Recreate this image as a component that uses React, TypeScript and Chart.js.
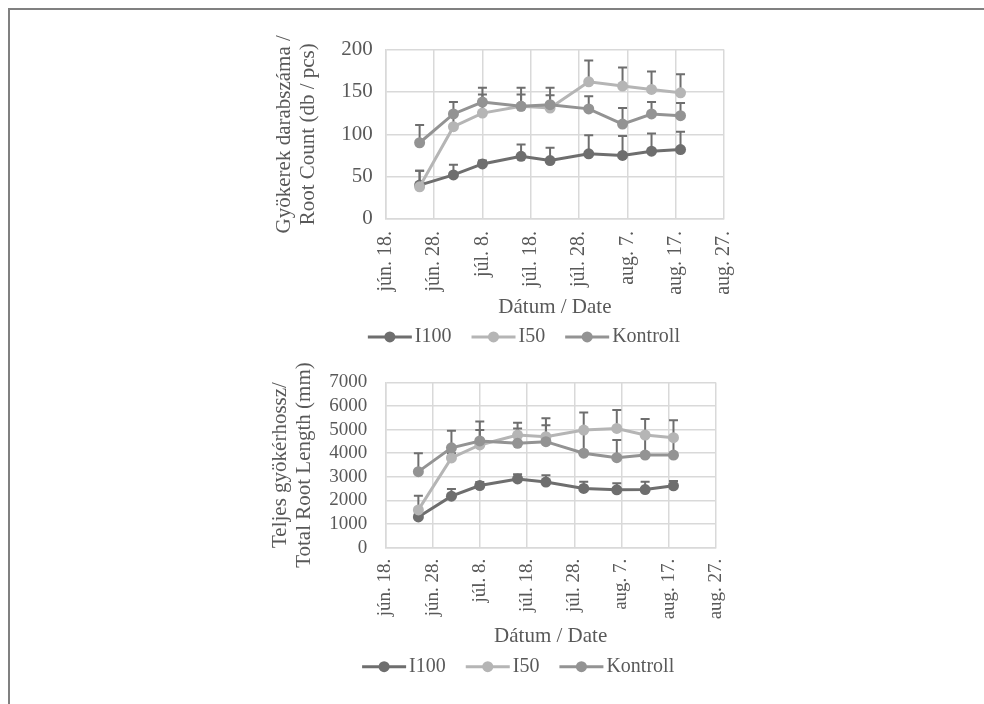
import React, { useEffect, useRef } from "react";
import { Chart, registerables } from "chart.js";

Chart.register(...registerables);

const FONT = "'Liberation Serif', 'Times New Roman', serif";
const TEXT_COLOR = "#595959";
const GRID_COLOR = "#d9d9d9";

const X_TICK_LABELS = ["jún. 18.", "jún. 28.", "júl. 8.", "júl. 18.", "júl. 28.", "aug. 7.", "aug. 17.", "aug. 27."];
// sampling dates as days after jún. 18.
const SAMPLE_DAYS = [7, 14, 20, 28, 34, 42, 49, 55, 61];
const SERIES_NAMES = ["I100", "I50", "Kontroll"];
const SERIES_COLORS = ["#6e6e6e", "#b5b5b5", "#939393"];
const ERROR_COLOR = "#6e6e6e";

const COUNT_I100 = [40, 52, 65, 74, 69, 77, 75, 80, 82];
const COUNT_I100_ERR = [17, 12, 4, 14, 15, 22, 23, 21, 21];
const COUNT_I50 = [38, 109, 125, 133, 131, 162, 157, 153, 149];
const COUNT_I50_ERR = [19, 14, 22, 14, 15, 25, 22, 21, 22];
const COUNT_KONTROLL = [90, 124, 138, 133, 135, 130, 112, 124, 122];
const COUNT_KONTROLL_ERR = [21, 14, 17, 22, 20, 15, 19, 14, 15];

const LENGTH_I100 = [1300, 2180, 2630, 2910, 2780, 2510, 2450, 2460, 2620];
const LENGTH_I100_ERR = [150, 300, 150, 200, 290, 280, 280, 330, 200];
const LENGTH_I50 = [1600, 3800, 4350, 4770, 4700, 4980, 5050, 4770, 4660];
const LENGTH_I50_ERR = [600, 200, 630, 520, 780, 750, 780, 680, 740];
const LENGTH_KONTROLL = [3220, 4230, 4520, 4420, 4490, 4000, 3810, 3920, 3920];
const LENGTH_KONTROLL_ERR = [780, 720, 820, 630, 700, 950, 750, 800, 700];

const errorBarPlugin = {
  id: "errorBars",
  beforeDatasetsDraw(chart: any) {
    const ctx = chart.ctx;
    const yScale = chart.scales.y;
    chart.data.datasets.forEach((ds: any, i: number) => {
      const errs = ds.errorBars;
      if (!errs) return;
      const meta = chart.getDatasetMeta(i);
      ctx.save();
      ctx.strokeStyle = ERROR_COLOR;
      ctx.lineWidth = 2;
      meta.data.forEach((pt: any, j: number) => {
        const v = ds.data[j].y;
        const top = yScale.getPixelForValue(v + errs[j]);
        ctx.beginPath();
        ctx.moveTo(pt.x, pt.y);
        ctx.lineTo(pt.x, top);
        ctx.moveTo(pt.x - 4.5, top);
        ctx.lineTo(pt.x + 4.5, top);
        ctx.stroke();
      });
      ctx.restore();
    });
  },
};

const lineLegendPlugin = {
  id: "lineLegend",
  afterDraw(chart: any, _args: any, opts: any) {
    const { ctx, chartArea } = chart;
    const y = chartArea.bottom + opts.offsetY;
    const symW = 44;
    const gap = 3;
    const itemGap = 20;
    ctx.save();
    ctx.font = `${opts.fontSize}px ${FONT}`;
    const items = chart.data.datasets.map((ds: any) => ({
      text: ds.label,
      color: ds.borderColor,
      w: ctx.measureText(ds.label).width,
    }));
    const total =
      items.reduce((s: number, it: any) => s + symW + gap + it.w, 0) + itemGap * (items.length - 1);
    let x = (chartArea.left + chartArea.right) / 2 + opts.offsetX - total / 2;
    items.forEach((it: any) => {
      ctx.strokeStyle = it.color;
      ctx.lineWidth = 3;
      ctx.beginPath();
      ctx.moveTo(x, y);
      ctx.lineTo(x + symW, y);
      ctx.stroke();
      ctx.fillStyle = it.color;
      ctx.beginPath();
      ctx.arc(x + symW / 2, y, 5.5, 0, Math.PI * 2);
      ctx.fill();
      ctx.fillStyle = TEXT_COLOR;
      ctx.textBaseline = "middle";
      ctx.textAlign = "left";
      ctx.fillText(it.text, x + symW + gap, y);
      x += symW + gap + it.w + itemGap;
    });
    ctx.restore();
  },
};

type Params = {
  yTitle: string[];
  yMax: number;
  yStep: number;
  series: number[][];
  errors: number[][];
  padRight: number;
  padBottom: number;
  yTitlePad: { top: number; bottom: number };
  yTickPad: number;
  yTickSize: number;
  xTickSize: number;
  xTickPad: number;
  xTitlePad: { top: number; bottom: number };
  legendOffsetX: number;
  legendOffsetY: number;
  legendFontSize: number;
};

function buildConfig(p: Params): any {
  const datasets = SERIES_NAMES.map((name, i) => ({
    label: name,
    data: SAMPLE_DAYS.map((d, j) => ({ x: d, y: p.series[i][j] })),
    errorBars: p.errors[i],
    borderColor: SERIES_COLORS[i],
    backgroundColor: SERIES_COLORS[i],
    pointBackgroundColor: SERIES_COLORS[i],
    pointBorderColor: SERIES_COLORS[i],
    pointBorderWidth: 0,
    pointRadius: 5.5,
    borderWidth: 3,
    tension: 0,
    order: SERIES_NAMES.length - i,
  }));
  const titleFont = { family: FONT, size: 21, lineHeight: 1.15 };
  return {
    type: "line",
    data: { datasets },
    options: {
      responsive: false,
      animation: false,
      layout: { padding: { top: 0, right: p.padRight, bottom: p.padBottom, left: 0 } },
      plugins: {
        legend: { display: false },
        tooltip: { enabled: false },
        lineLegend: { offsetX: p.legendOffsetX, offsetY: p.legendOffsetY, fontSize: p.legendFontSize },
      },
      scales: {
        x: {
          type: "linear",
          min: 0,
          max: 70,
          grid: { color: GRID_COLOR, lineWidth: 1.5, drawTicks: false },
          border: { color: GRID_COLOR, width: 1.5 },
          ticks: {
            stepSize: 10,
            autoSkip: false,
            maxRotation: 90,
            minRotation: 90,
            padding: p.xTickPad,
            color: TEXT_COLOR,
            font: { family: FONT, size: p.xTickSize },
            callback: (v: number) => X_TICK_LABELS[Math.round(v / 10)],
          },
          title: {
            display: true,
            text: "Dátum / Date",
            color: TEXT_COLOR,
            font: titleFont,
            padding: p.xTitlePad,
          },
        },
        y: {
          min: 0,
          max: p.yMax,
          grid: { color: GRID_COLOR, lineWidth: 1.5, drawTicks: false },
          border: { color: GRID_COLOR, width: 1.5 },
          ticks: {
            stepSize: p.yStep,
            autoSkip: false,
            padding: p.yTickPad,
            color: TEXT_COLOR,
            font: { family: FONT, size: p.yTickSize },
            callback: (v: number) => String(v),
          },
          title: {
            display: true,
            text: p.yTitle,
            color: TEXT_COLOR,
            font: titleFont,
            padding: p.yTitlePad,
          },
        },
      },
    },
    plugins: [errorBarPlugin, lineLegendPlugin],
  };
}

function ChartCanvas({ params, left, top, width, height }: { params: Params; left: number; top: number; width: number; height: number }) {
  const ref = useRef<HTMLCanvasElement | null>(null);
  useEffect(() => {
    if (!ref.current) return;
    const chart = new Chart(ref.current, buildConfig(params));
    return () => chart.destroy();
  }, []);
  return (
    <canvas
      ref={ref}
      width={width}
      height={height}
      style={{ position: "absolute", left, top, width, height }}
    />
  );
}

const TOP_PARAMS: Params = {
  yTitle: ["Gyökerek darabszáma /", "Root Count (db / pcs)"],
  yMax: 200,
  yStep: 50,
  series: [COUNT_I100, COUNT_I50, COUNT_KONTROLL],
  errors: [COUNT_I100_ERR, COUNT_I50_ERR, COUNT_KONTROLL_ERR],
  padRight: 39,
  padBottom: 26,
  yTitlePad: { top: 17, bottom: 8 },
  yTickPad: 13,
  yTickSize: 21,
  xTickSize: 20,
  xTickPad: 12,
  xTitlePad: { top: -11, bottom: 4 },
  legendOffsetX: -31,
  legendOffsetY: 118,
  legendFontSize: 20,
};

const BOTTOM_PARAMS: Params = {
  yTitle: ["Teljes gyökérhossz/", "Total Root Length (mm)"],
  yMax: 7000,
  yStep: 1000,
  series: [LENGTH_I100, LENGTH_I50, LENGTH_KONTROLL],
  errors: [LENGTH_I100_ERR, LENGTH_I50_ERR, LENGTH_KONTROLL_ERR],
  padRight: 39,
  padBottom: 32,
  yTitlePad: { top: 13, bottom: -5 },
  yTickPad: 18,
  yTickSize: 19,
  xTickSize: 19,
  xTickPad: 11,
  xTitlePad: { top: -5.5, bottom: 4 },
  legendOffsetX: -32.5,
  legendOffsetY: 119,
  legendFontSize: 20,
};

export default function App() {
  return (
    <div style={{ position: "absolute", left: 0, top: 0, width: 984, height: 704, background: "#ffffff", overflow: "hidden" }}>
      <div
        style={{
          position: "absolute",
          left: 8,
          top: 8,
          width: 990,
          height: 710,
          borderTop: "2px solid #808080",
          borderLeft: "2px solid #808080",
        }}
      />
      <ChartCanvas params={TOP_PARAMS} left={255} top={24} width={508} height={326} />
      <ChartCanvas params={BOTTOM_PARAMS} left={255} top={353} width={500} height={332} />
    </div>
  );
}
